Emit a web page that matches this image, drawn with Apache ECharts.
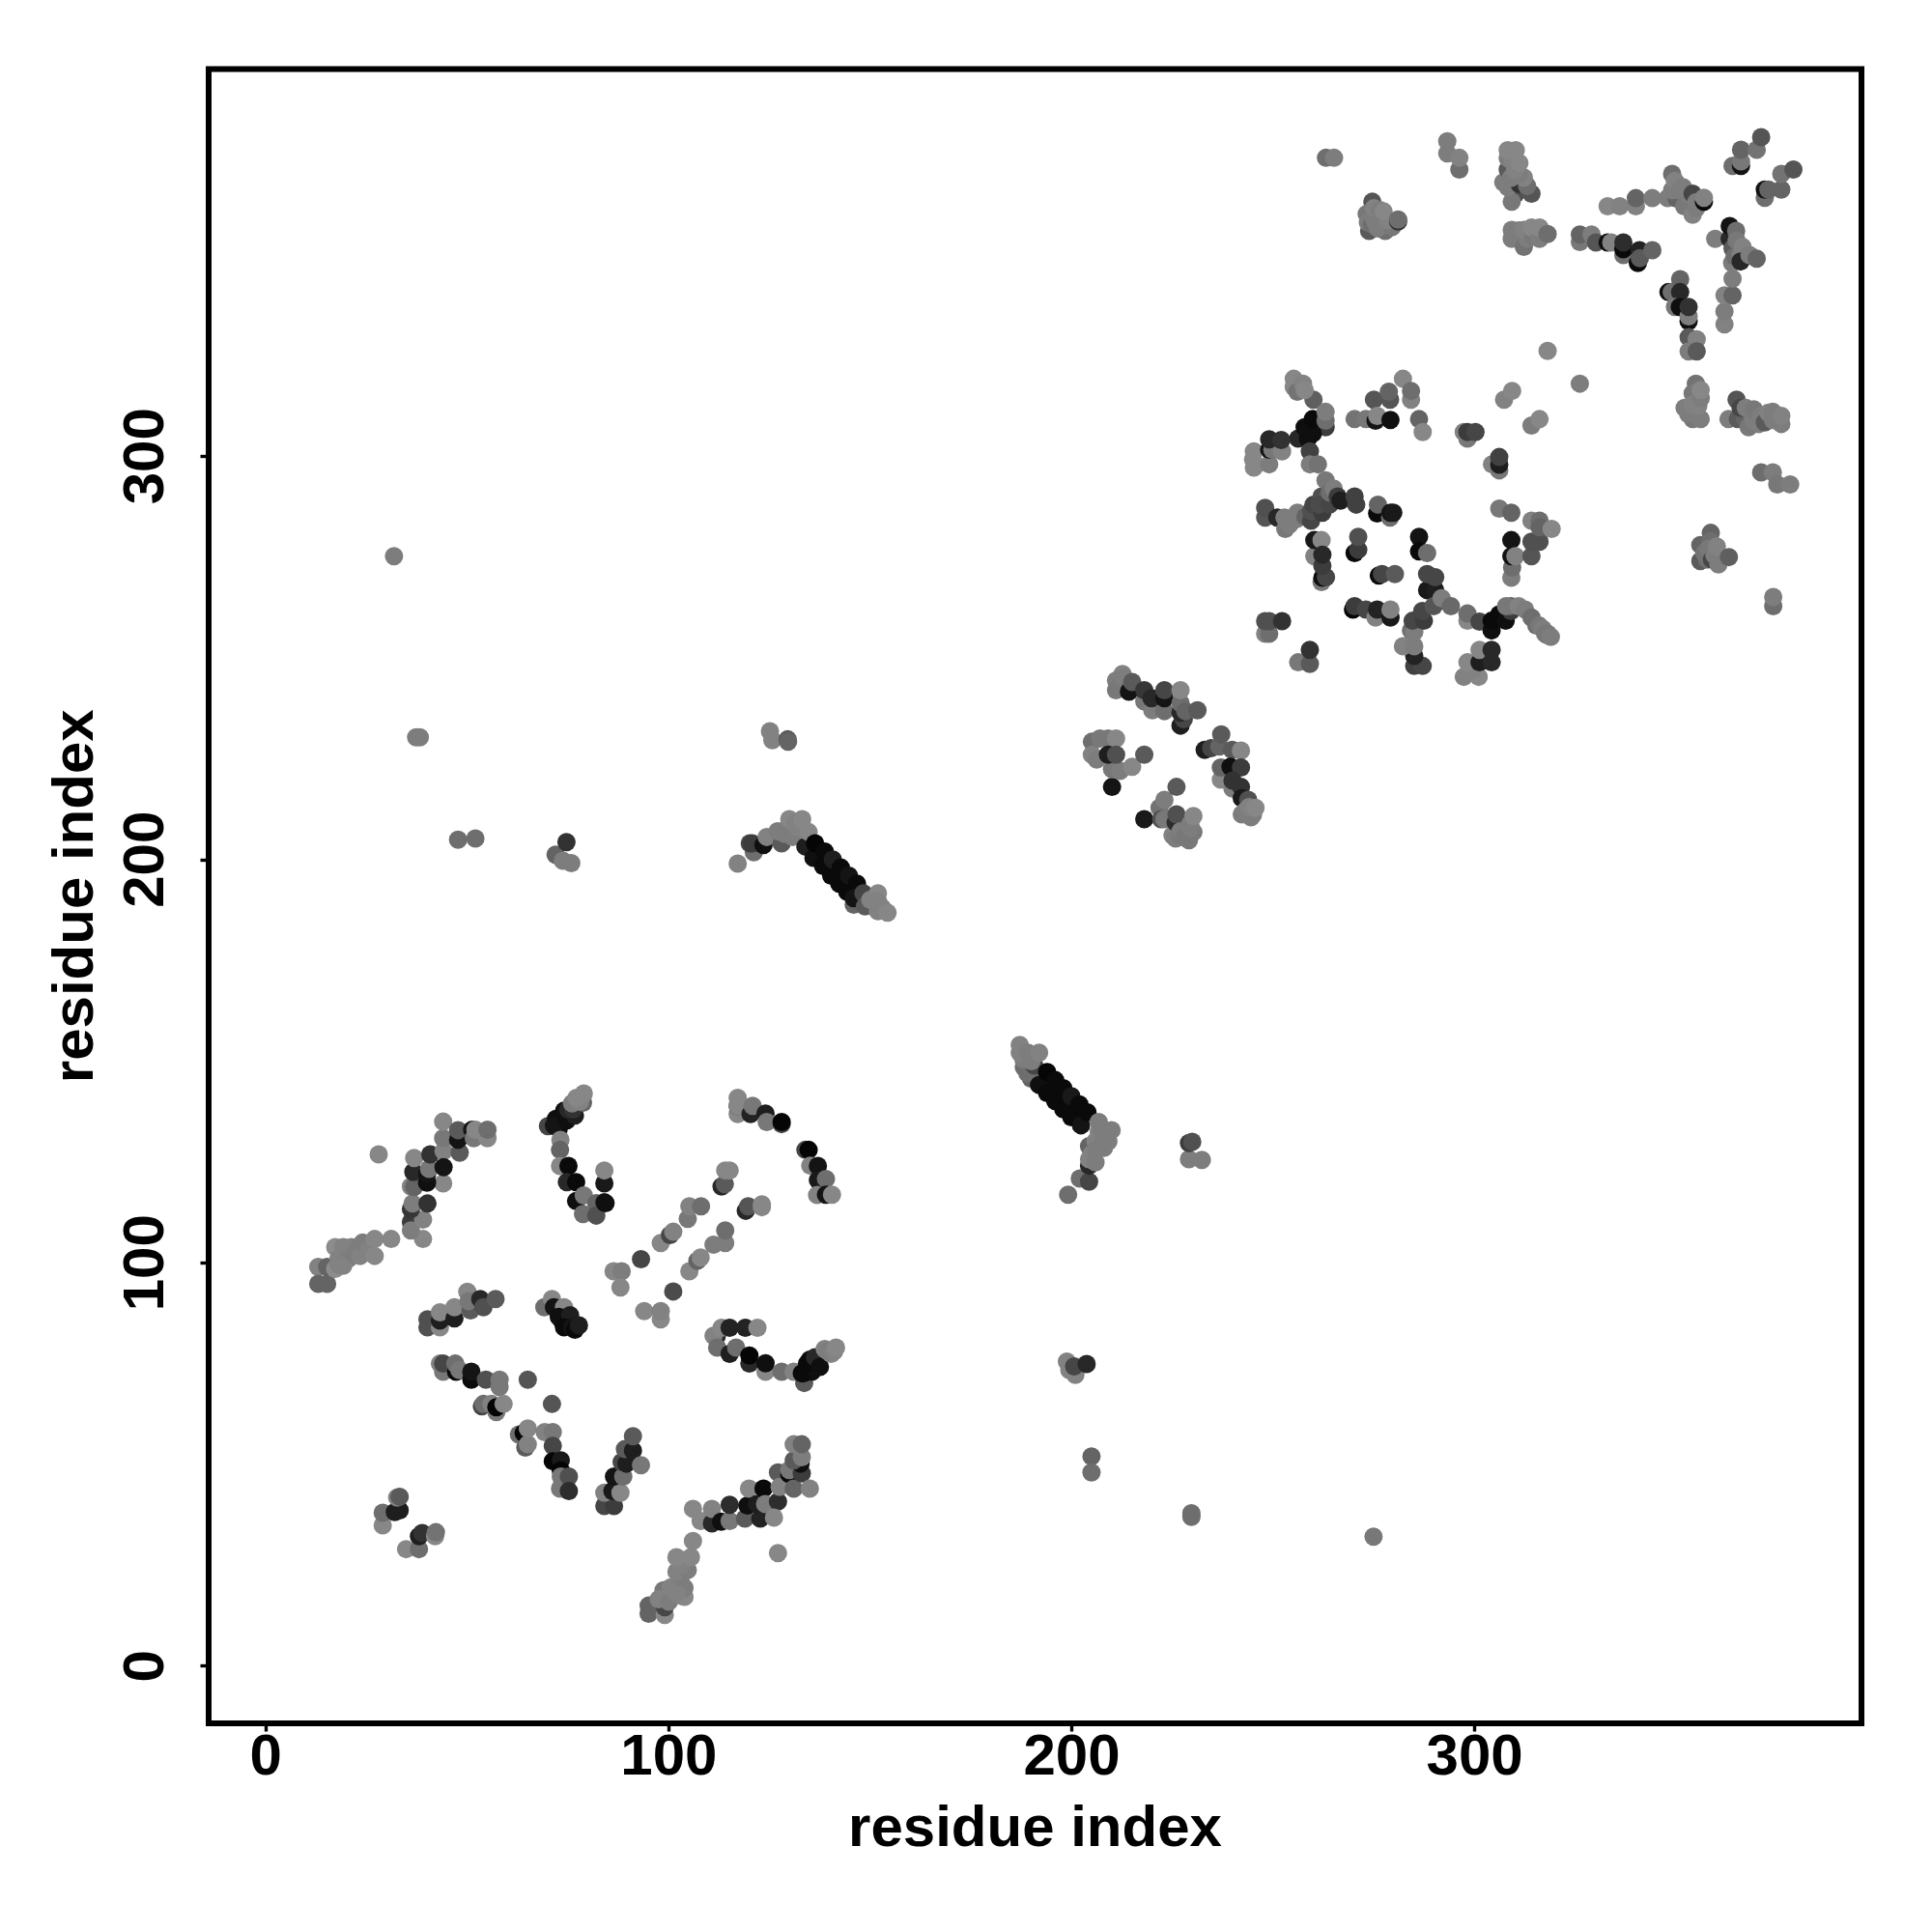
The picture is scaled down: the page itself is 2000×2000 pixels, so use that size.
<!DOCTYPE html>
<html><head><meta charset="utf-8">
<script src="https://cdn.jsdelivr.net/npm/echarts@6/dist/echarts.min.js"></script>
<style>html,body{margin:0;background:#fff}#c{width:2000px;height:2000px}</style></head>
<body><div id="c"></div>
<script>
const axisTitle = "residue index";
const tickValues = [0,100,200,300];
// each point: residue x, residue y, grey shade (0-255); later points overlay earlier ones
const chainLowerLeft = [[13,99,130],[13,94.8,100],[15.2,94.8,100],[15.2,99,100],[17.2,98.5,140],[18,99.5,130],[17.2,103.9,140],[19.2,103.9,130],[19.2,101.8,130],[18,101,130],[20.5,101,125],[19.2,99.3,130],[21.2,103.9,130],[22,102,125],[23,104,125],[23.4,101.7,130],[24,105,125],[25.5,103,130],[27,101.7,135],[27,105.9,135],[31.1,105.9,135]];
const riseA = [[39,105.9,135],[36,110.1,60],[36,108,125],[39,110.7,130],[36,113.3,55],[36.4,114.7,125],[40.1,114.7,50],[36,118.9,130],[36.8,118.8,100],[44,119.7,135],[40,119.9,15],[36.6,122.5,40],[40,122,20],[36.8,126,135],[40.5,123.3,120],[40.8,126.9,50],[44.1,127.7,130],[44.1,123.7,20],[48.1,127.3,90],[44,130.9,120],[44,135,135],[47.7,130.5,20],[47.7,132.9,90],[51.2,133,20],[51.6,130.9,120],[55,130.9,135],[52,133,135],[55,133,110]];
const strandB = [[40.1,86,80],[40.1,84,80],[43.2,84,135],[43.2,85.7,30],[43.2,87.7,135],[46.8,86.2,30],[46.8,89,135],[50.8,88.2,90],[50,92.8,135],[50.3,90.5,120],[53.2,91,40],[54,89,80],[57,91,90]];
const strandC = [[69.1,89,110],[71,91,135],[71.5,89,20],[74,89,135],[72.7,86.6,15],[73.5,85.5,15],[75,85,10],[75.5,87,30],[74,84,10],[76,84,20],[76.7,83.4,10],[77.7,84.5,30]];
const arcTop = [[70,133.9,70],[72,135.7,15],[72.7,133.3,15],[71.5,134,20],[74.7,135.3,15],[74,137.7,15],[76.7,136.5,30],[75,138,40],[76.3,138,50],[73.1,130.5,130],[73,128,100],[78.7,139.7,100],[76,139.5,125],[78,140,130],[77.1,140.9,135],[78.9,142,135],[73,124,135],[75.1,124,10],[74.7,120,40],[77,120,10],[77,115.3,15],[78.7,112.1,110],[78.9,116.7,120],[82,114.8,100],[82,111.7,80],[84,115,25],[84.3,114.8,15],[84,119.7,25],[84,122.9,135]];
const strandD = [[117.1,136.9,135],[117.1,138.9,30],[117.1,138.9,135],[117.1,140.9,135],[120.3,136.9,35],[120.8,138.9,120],[124,137,30],[124.3,134.9,120],[128,134.4,70],[128,134.9,5]];
const strandE = [[133.9,128,70],[134.7,128,5],[135.1,124.1,130],[137,124,20],[137,120.5,25],[139,120.8,110],[136.8,116.8,130],[139,116.9,20],[140.5,116.9,135]];
const ladderF = [[113.1,118.9,40],[113.9,119.5,90],[114,122.9,135],[115.1,122.9,135],[119.1,112.9,40],[119.7,114,85],[123.1,114.5,135],[123.1,113.8,135],[93.1,100.9,70],[98,104.9,135],[100.3,106.9,70],[101.1,107.7,130],[104.7,110.9,120],[105.1,114,130],[108,114,110],[86.3,97.9,135],[88.3,97.9,125],[88,93.9,135],[101.1,92.9,75],[93.9,88,135],[98,86,135],[98,88,130],[105.1,97.9,135],[107.1,100.5,100],[107.9,101.3,135],[111.1,104.5,125],[114,104.9,125],[114,108,110]];
const strandG = [[111.9,81.8,45],[111.1,81.9,130],[113.1,83.9,135],[112,79,110],[115.1,77.4,30],[115.1,83.9,35],[116.7,79,110],[120,75,40],[120,77,5],[119,83.9,35],[122,83.9,135],[124,73,135],[124,75.1,15],[128,73,110],[131,73,130],[133.6,70.2,90],[133.5,72.6,15],[135.5,73,15],[133,72.6,10],[135,76,15],[136,74,15],[137,75.8,15],[134.3,75,10],[136.3,76.6,40],[137.5,74.2,15],[138.7,78.6,130],[140.3,77.4,135],[139.5,78,125],[141,78,130],[141.5,79,135]];
const lowerH = [[43.2,75,130],[44,73,120],[44,75,70],[47.2,73,10],[47,75,110],[48,73.4,120],[51,71,10],[51,73,20],[54.6,71,80],[58,69.2,120],[58,71,120],[53.6,64.4,70],[54,65,110],[56,65,130],[57.2,63,120],[57.2,64.2,5],[59,65,135],[65,71,85],[71,65,85]];
const lowerI = [[62.8,57.4,110],[64.4,54.2,90],[64,57.8,5],[65,55,130],[65,58.9,135],[69.2,58,130],[71.2,58,120],[71.2,54.6,70],[71.2,50.8,5],[73.2,51,25],[73,44,120],[73.2,48.5,5],[73.2,47,120],[75.2,47,80],[75.2,43.4,45]];
const lowerJ = [[84,39.7,70],[86.4,39.7,60],[84,43,130],[86,43.4,25],[88,43,135],[86.4,47,20],[88.7,47,110],[88.3,50.6,70],[89.5,50.2,30],[89.1,53.8,90],[91.1,53.4,30],[93.1,49.8,120],[91.1,57,90]];
const smallK = [[29,34.9,135],[29,38,110],[32,38.2,30],[33.2,38.6,30],[32.6,41.8,130],[33.2,42,90],[34.8,29,135],[38,29,110],[38,32.2,30],[38.8,33,50],[42,32.2,135],[42.2,33.2,115]];
const diagM = [[95,15,100],[95,13,100],[99,12.7,135],[99,14.6,70],[98.7,18.8,120],[97.5,16.6,130],[100,16,125],[100.5,19.5,130],[103,17.5,130],[103.9,17.2,135],[103.9,19.4,125],[101.9,18.2,130],[103,22,125],[101.9,23.4,130],[104.7,23.8,125],[103,25,130],[101.9,27,135],[105.5,27,135],[106,31,135]];
const diagN = [[106,39,135],[107.9,36,135],[110.7,35.4,40],[110.7,39,130],[113,35.8,15],[115.1,36,120],[115.1,40,45],[118.9,36.6,90],[119.5,39.8,15],[119.9,44,135],[122.7,36.6,35],[121.9,40.2,30],[123.5,44,10],[123.9,40.2,125],[127.1,40.8,45],[126.1,36.8,135],[127.1,28,135],[127.1,48,90],[127.5,44.4,130],[129.9,47.6,10],[129.9,48.6,120],[131,44,100],[133,47.8,60],[135,44,130],[132.7,50.2,15],[131,51,90],[133,51.8,125],[131,55,130],[133,55,100]];
const clusterP = [[255.1,319.2,135],[255.1,317.2,135],[256,316,115],[260,314,95],[257.4,318,130],[257.8,316.4,135],[263,307.2,60],[256.2,304.4,40],[258.6,304.4,15],[259.8,305.6,15],[257.8,307.2,15],[259.8,309.2,10],[263,308.8,110],[263,311,125],[259.1,301.2,65],[259.1,298,125],[261.1,298,115],[245.2,297.2,135],[245,299.2,135],[245.2,301.2,135],[249,298,125],[249,301.6,20],[249.8,301.6,120],[252.2,301.2,130],[249,304.2,40],[252,304,50]];
const clusterQ = [[275,314,85],[279,314,85],[278.7,316,100],[284.2,314,130],[282.2,319.2,135],[284.2,316.2,110],[270.2,309.2,115],[273,309.2,120],[275.4,308.8,20],[275.8,310,135],[279.1,309,15],[286.2,309.2,100],[287.1,306,135],[298.2,304.4,120],[297.3,306,130],[298.2,306,60],[300.2,306,70],[304.3,298,130],[306.1,296.5,120],[306.1,297.9,30],[306.1,299.8,65],[307.3,314,130],[309.3,316.2,135],[314.1,307.6,125],[316.1,309.2,135]];
const clusterR = [[248,284.8,85],[248,287.2,80],[251,284.8,40],[253,282,120],[252.8,284.8,125],[254,283,125],[255.8,284.4,125],[256,286,125],[258,285,100],[259.4,284,70],[259.4,286.4,80],[260,288,70],[262.2,286,60],[262,290,80],[263.4,289.6,90],[261.4,288,75],[264,288,70],[263,294,120],[264,291,110],[265,292,125],[266,290,60],[266.7,289,30],[270.2,290,65],[270.6,288,65],[275.8,285.8,10],[276,288,100],[279,284.8,110],[279.1,286,20],[279.8,286,25]];
const clusterS = [[260.2,275.2,130],[260.2,279.2,25],[262,279.2,135],[262,268.8,120],[262.2,269.9,15],[263.1,270,70],[262.2,272.8,60],[262.2,275.6,40],[270.2,276,10],[271.1,276.8,60],[271.1,280,80],[286.2,280,20],[286.2,276.4,10],[288.2,276,110],[276.2,270.4,10],[277,270.8,70],[280.2,270.8,90]];
const clusterT = [[288.2,266.8,25],[290.2,266.8,30],[288.2,270.8,70],[290.2,270,70],[285,248,65],[287.1,248,70],[285,250.5,35],[282.2,252.9,130],[285,252.9,125],[284.2,256.8,110],[285,256.4,125],[284.6,259.2,70],[287.4,259.2,60],[287,261.6,70],[289.8,262.8,85],[291.8,264.8,125],[294.1,262.8,105]];
const clusterU = [[269.8,262,5],[270.2,262.8,60],[273,262,70],[275.4,260,130],[275.8,262,35],[279.1,260,25],[279.1,262,130],[248,256,130],[249,256,110],[248,259.1,80],[249,259.1,80],[252.2,259.1,50],[256.2,248.9,120],[259.1,248.5,90],[259.1,252,50]];
const clusterV = [[298.2,259.2,135],[298.2,261,110],[301.2,259,70],[304.2,256.8,15],[304.2,259.2,10],[306.1,260.8,10],[307.7,259.2,15],[309,261.6,60],[309,262.8,100],[307.8,262.8,120],[310.9,262.8,130],[312.5,262,125],[314.1,260,110],[315.3,258,110],[316,258,120],[316.9,257.2,125],[318,255.6,120],[317.5,256,120],[318.1,256,120],[318.9,255.2,125],[297.3,245.3,130],[301,245.3,135],[299.4,247,130],[298.2,248.9,135],[301.2,248.9,30],[301.2,252,135],[304.2,248.9,40],[304.2,252,40]];
const clusterW = [[306.1,287,120],[309.1,286,100],[309.1,269.9,125],[309.3,272.4,110],[309.1,275.2,20],[309.1,279.2,20],[310.1,275.2,130],[314.1,275.2,85],[314.1,278.8,80],[316.1,278.8,80],[314.1,284,130],[316.1,284,110],[316.1,282.4,100],[319.1,282,135]];
const topA = [[263.1,374,110],[265.1,374,125],[293.2,375.1,125],[293.2,378.1,125],[296.2,371.1,110],[296.2,374,130]];
const topB = [[310.2,365.1,80],[314.1,365.1,85],[309.2,363.1,120],[307.1,367.9,125],[308.2,366.7,125],[308.2,371.1,90],[311.1,367.5,50],[313,367,110],[309,369,125],[312.2,369.1,130],[311,370,125],[310,371,130],[308.2,373.9,125],[309.5,373,130],[311.1,372.7,135],[308.2,375.9,135],[310.2,375.9,135],[309.2,353.9,125],[309.2,356.1,125],[312,353.5,125],[310.5,354,125],[311,356,125],[312.2,351.9,115],[313,354,125],[312.2,356.1,130],[314.5,354.5,120],[314.1,356.7,135],[316.1,353.9,125],[316.1,356.7,135],[318.1,355.1,110]];
const topC = [[273.8,355.9,90],[277.8,355.9,110],[274.6,363.1,85],[273.2,360.1,120],[273.5,358,125],[274.5,357.5,110],[275.4,357.9,125],[276,356.5,125],[279.5,356.8,120],[275,359,125],[275,361.5,130],[278.5,358.5,130],[276.5,361,125],[277.4,360.7,135],[281,358.2,50],[281,358.7,110]];
const isolatedTop = [[318.1,326.1,135],[326.1,318,125]];
const stripA = [[326.1,353.1,120],[326.1,355,100],[329,355,125],[330.1,353,85],[333,353,15],[333.9,353,130],[336.9,349.9,110],[336.9,351.3,10],[336.9,353,45],[340.5,347.9,10],[340.9,351.1,35],[341,349.1,90],[344.1,351.1,100]];
const stripB = [[333,362,135],[336,362,130],[340,362,130],[340,364,100],[344.1,364,125],[347.9,364,125],[349,370,110],[350.1,363.9,100],[349,366,125],[352.5,363.9,120],[349.7,368.3,130],[351,366,125],[351.7,366.7,125],[352,362,120],[353,365,125],[354.1,359.9,130],[355,361.5,125],[354.1,365.1,70],[355,363,125],[356.9,363.1,10],[356.9,364.1,130]];
const cornerA = [[364,372,110],[366.1,372,20],[366.1,373.1,120],[366.1,376,100],[370,376,115],[371.1,379.1,85],[372,364.1,110],[372,366.1,20],[372.9,366.1,100],[376.1,366.1,100],[376.1,370,115],[379.1,371.1,85]];
const stripC = [[362,332.7,130],[362,335.9,125],[362,339.9,130],[364,339.9,100],[364,344,125],[363.9,347.9,125],[359.7,353.9,125],[363.3,353.9,40],[363.3,357.1,20],[364.9,355.9,110],[364,351.5,90],[365,353.5,120],[364.5,349.5,110],[366,350,125],[366.5,351.9,130],[366,348.3,40],[368.2,349.9,125],[370,349,100]];
const stripD = [[348.1,340.7,15],[348.9,340.7,110],[351,343.9,100],[351,340.7,40],[349.7,337,120],[350.9,337,15],[353.1,333.5,15],[353.1,334.7,125],[353.1,337,50],[353.1,329.5,90],[355.1,329,130],[353.1,326,125],[355.1,326,90]];
const blobA = [[352.1,312,125],[354.1,309.2,120],[353,310.5,125],[356.1,309.2,125],[355,311,125],[354.9,318,115],[354.1,315.6,120],[354.1,312.8,130],[355.5,312.5,130],[356.1,314.4,125],[356.1,316.4,135]];
const blobB = [[365,314,85],[363,309.2,125],[365.3,309.2,90],[367,309.5,100],[368,307.2,120],[366,312,70],[367.3,312,125],[369,309,125],[369.3,311.6,120],[370.5,308,125],[371,310,125],[372,308.4,90],[372.9,310.8,130],[374,309,125],[374,311,125],[376.1,308,125],[376.1,310,130],[371.1,296,110],[374,296,125],[375.1,293,120],[378.3,293,125]];
const blobC = [[356,274,90],[357.7,274.4,110],[356,278,100],[357,276,115],[358.6,281,100],[358.5,279,110],[358,277,120],[358.9,274.4,70],[359.5,275.5,125],[360.5,273.2,125],[360.1,277.6,130],[363.1,275,95],[374.1,262.8,110],[374.1,265.1,125]];
const midA = [[212.6,246,130],[211,244.4,125],[211,242,120],[212,243,120],[213,245,125],[214.2,241.6,20],[215,244,90],[218,239.2,120],[220,237,125],[218,242,55],[219.8,240,40],[223,236.8,110],[223,240,20],[223,242,70],[227,233.2,30],[227.8,234.8,70],[227,236.4,40],[227,238.8,110],[228.2,236.8,100],[231.2,237,90],[227,242,135]];
const midB = [[205,229.2,110],[207,230,120],[209,230,120],[205,226,130],[206.2,224.8,125],[211,230,135],[210,218,20],[210,222.4,120],[212,222,125],[209,226,30],[211,226,80],[215,223,135],[218,226,90]];
const midC = [[218,210,25],[221.8,212.8,115],[222.2,210,80],[223,210,120],[223,214.8,125],[226,218,90],[225,206,130],[225.8,205.2,125],[225.8,209.2,45],[226,211.2,80],[227,206,120],[227,207,125],[228,205.5,120],[229.1,204.8,120],[230.2,206.8,120],[229.5,207.8,125],[229.4,208.8,125],[230.2,210.8,135]];
const midD = [[233,227.2,30],[234.6,227.6,70],[236.6,228,100],[237.1,231,90],[239.8,227.2,90],[242,227,135],[237,219.8,135],[237,222.8,100],[239.4,223,15],[242,222.8,60],[239.9,217.6,125],[239.9,219.6,50],[242,218,50],[242.2,215.2,25],[243.8,214.8,80],[242.2,211.2,125],[243.8,211.2,120],[243,212,125],[245,211.2,125],[244.5,210.5,125],[244,213,130],[245.6,212.8,135]];
const helixUp = [[117.1,199,130],[121.1,201.8,110],[120.1,204,70],[120.7,204,60],[123.5,203.6,15],[124.3,205.6,130],[128,204,90],[130.7,205.6,125],[128.7,206.4,125],[127,207,125],[129.5,208,125],[131,207,125],[129.9,210,135],[132,208,130],[131.5,209.2,130],[133.1,210,135],[133.9,203.2,30],[135.9,200.4,15],[138.3,198.4,10],[140.3,196,10],[142.3,194,10],[144.3,192,10],[134.7,206.8,135],[136.3,204,5],[138.7,202,10],[140.7,200,30],[142.7,198,10],[144.7,196,20],[146.7,194,10],[145.9,188.8,100],[145.9,190.4,20],[148.3,191.6,70],[148.7,188.4,90],[150,190,130],[151.9,191.6,135],[151.1,189.6,130],[152,189.5,130],[153,188,130],[151.9,187.2,130],[154.3,186.8,135]];
const helixDown = [[189.9,145.7,100],[189,147,110],[188.1,148.5,110],[190.7,148.9,70],[188,150.5,125],[190,150,125],[187.1,152.1,130],[187.1,154,130],[189.1,152.1,125],[191.9,152.1,130],[191.9,144.1,15],[193.9,142.1,10],[195.9,140.1,10],[197.9,138.1,10],[199.9,136.1,10],[202.3,134.1,20],[193.9,147.3,5],[195.9,145.3,10],[197.9,143.3,10],[199.9,141.3,25],[201.9,139.3,10],[203.9,137.3,10],[199.1,116.9,110],[202,120.9,110],[204.3,120.1,70],[204.3,124.1,40],[204.3,128.9,100],[204.3,125.7,130],[205,127,130],[205.9,124.9,125],[205.9,130.1,130],[206,128,125],[206.7,132.5,130],[206.7,134.9,125],[207.5,133,125],[208,131,125],[208,128.5,125],[209.1,130.1,125],[209.9,132.9,125]];
const isolatedHigh = [[31.8,275.2,125],[37.3,230.3,125],[38.2,230.3,125],[47.7,204.9,110],[52,205.2,110],[71.9,201.2,100],[74.6,204.3,50],[73.7,199.7,125],[75.8,199.1,125],[125.1,231.8,130],[125.7,229.6,130],[129.5,229.8,90],[129.6,229.2,100]];
const isolatedLow = [[229.1,125.7,125],[232.3,125.5,125],[229.1,129.7,60],[229.9,130,80],[198.8,75.5,130],[199.4,73.4,130],[200.9,72.2,130],[200.6,74.3,70],[203.7,74.9,40],[204.9,52,100],[204.9,48,110],[229.7,37,110],[229.7,37.9,110],[274.9,32.1,120],[28,126.9,135]];

const allPoints = [].concat(chainLowerLeft,riseA,strandB,strandC,arcTop,strandD,strandE,ladderF,strandG,lowerH,lowerI,lowerJ,smallK,diagM,diagN,clusterP,clusterQ,clusterR,clusterS,clusterT,clusterU,clusterV,clusterW,topA,topB,topC,isolatedTop,stripA,stripB,cornerA,stripC,stripD,blobA,blobB,blobC,midA,midB,midC,midD,helixUp,helixDown,isolatedHigh,isolatedLow);

const font = '"Liberation Sans", Arial, sans-serif';
const axisBase = {
  type:'value', min:-14.2, max:396, splitLine:{show:false}, axisLine:{show:false,onZero:false},
  axisTick:{show:true, length:8.5, inside:false, lineStyle:{color:'#000',width:3.4}, customValues:tickValues},
  name:axisTitle, nameLocation:'middle',
  nameTextStyle:{color:'#000',fontFamily:font,fontWeight:'bold',fontSize:60}
};
const chart = echarts.init(document.getElementById('c'),null,{renderer:'canvas'});
chart.setOption({
  animation:false, backgroundColor:'#fff',
  grid:{left:216,top:71.5,width:1711,height:1712.5,show:true,borderColor:'#000',borderWidth:6,backgroundColor:'transparent'},
  xAxis:Object.assign({},axisBase,{nameGap:80,
    axisLabel:{show:true,color:'#000',fontFamily:font,fontWeight:'bold',fontSize:60,margin:6,customValues:tickValues,hideOverlap:false}}),
  yAxis:Object.assign({},axisBase,{nameGap:107,
    axisLabel:{show:true,color:'#000',fontFamily:font,fontWeight:'bold',fontSize:60,margin:34,rotate:90,customValues:tickValues,hideOverlap:false}}),
  series:[{type:'scatter',symbol:'circle',symbolSize:19,data:allPoints,large:false,progressive:0,clip:false,
    itemStyle:{opacity:1,color:p=>{const g=p.data[2];return 'rgb('+g+','+g+','+g+')';}}}]
});
</script></body></html>
